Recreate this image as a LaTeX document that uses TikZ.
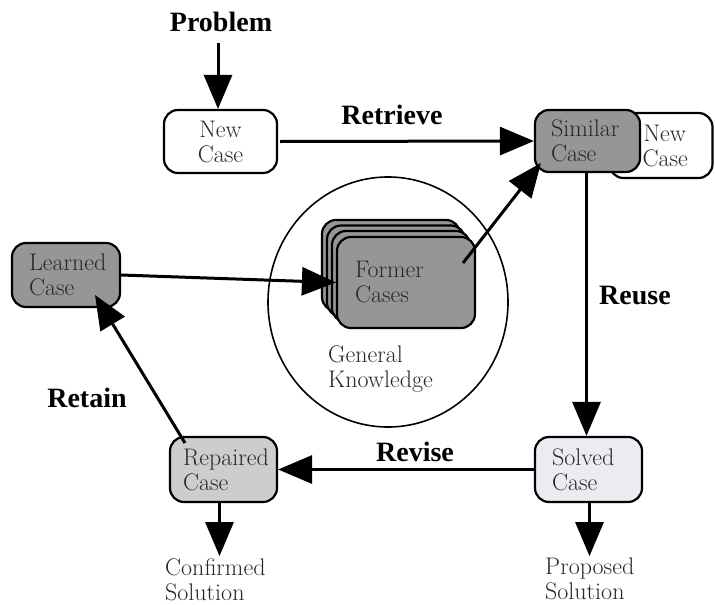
\documentclass[tikz,border=0pt]{standalone}
\usepackage{fontspec}
\newfontfamily\labelfont{Liberation Serif}
\usetikzlibrary{arrows.meta}
\definecolor{midgray}{RGB}{150,150,150}
\definecolor{lightgray2}{RGB}{205,205,205}
\definecolor{lavender2}{RGB}{238,234,242}
\definecolor{txtgray}{RGB}{40,40,40}
\tikzset{
  casebox/.style={draw=black, line width=2.2pt, rounded corners=14pt, inner sep=0pt, text=txtgray, font=\rmfamily\fontsize{24}{25}\selectfont},
  flow/.style={line width=3pt, -{Triangle[length=34pt,width=28pt]}},
  steplabel/.style={font=\labelfont\bfseries\fontsize{28}{30}\selectfont, text=black},
  plaintext/.style={text=txtgray, font=\rmfamily\fontsize{24}{25}\selectfont, align=left, inner sep=0pt},
}
\begin{document}
\begin{tikzpicture}[x=1pt,y=-1pt]
\useasboundingbox (0,0) rectangle (715,605);
% circle
\draw[line width=1.6pt] (388,302) ellipse [x radius=120, y radius=125];
% boxes
\node[casebox, fill=white, minimum width=113pt, minimum height=63pt, align=center] (newcase) at (220.5,141.5) {New\\Case};
\node[casebox, fill=white, minimum width=103pt, minimum height=65pt, text width=71pt, align=left] (newcase2) at (661,145.5) {\hspace*{18pt}New\\\hspace*{17pt}Case};
\node[casebox, fill=midgray, minimum width=105pt, minimum height=62pt, text width=73pt, align=left] (similar) at (587.5,141) {Similar\\Case};
\node[casebox, fill=lavender2, minimum width=107pt, minimum height=65pt, text width=73pt, align=left] (solved) at (588.5,469.5) {Solved\\Case};
\node[casebox, fill=lightgray2, minimum width=107pt, minimum height=65pt, text width=81pt, align=left] (repaired) at (223.5,469.5) {Repaired\\Case};
\node[casebox, fill=midgray, minimum width=108pt, minimum height=64pt, text width=74pt, align=left] (learned) at (66,275) {Learned\\Case};
% former cases stack
\node[casebox, fill=midgray, minimum width=138pt, minimum height=91pt] (f3) at (391,265.5) {};
\node[casebox, fill=midgray, minimum width=138pt, minimum height=91pt] (f2) at (396,271) {};
\node[casebox, fill=midgray, minimum width=138pt, minimum height=91pt] (f1) at (401,276.5) {};
\node[casebox, fill=midgray, minimum width=138pt, minimum height=91pt, text width=102pt, align=left] (former) at (406,282.5) {Former\\Cases};
\node[plaintext, anchor=north west] (gk) at (328,346) {General\\Knowledge};
% labels
\node[steplabel] (problem) at (221,22) {Problem};
\node[steplabel] (retrieve) at (392,115) {Retrieve};
\node[steplabel] (reuse) at (635,296) {Reuse};
\node[steplabel] (revise) at (415,452) {Revise};
\node[steplabel] (retain) at (87,398) {Retain};
\node[plaintext, anchor=north west] (confirmed) at (165,558) {Confirmed\\Solution};
\node[plaintext, anchor=north west] (proposed) at (545,558) {Proposed\\Solution};
% connector end points
\coordinate (p0) at (218,43);
\coordinate (fa) at (463,263);
\coordinate (fb) at (541,163);
\coordinate (ra) at (185,443);
\coordinate (rb) at (95,295);
% arrows
\draw[flow] (p0) -- (p0 |- newcase.north);
\draw[flow] (newcase.east) ++(2,0) -- (similar.west);
\draw[flow] (similar.south) ++(-1,0) coordinate (s0) -- (s0 |- solved.north);
\draw[flow] (solved.west) -- (repaired.east);
\draw[flow] (learned.east) -- (former.west);
\draw[flow] (fa) -- (fb);
\draw[flow] (ra) -- (rb);
\draw[flow] (repaired.south) ++(-4,0) coordinate (r0) -- ++(0,53);
\draw[flow] (solved.south) ++(1,0) coordinate (sv0) -- ++(0,53);
\end{tikzpicture}
\end{document}
